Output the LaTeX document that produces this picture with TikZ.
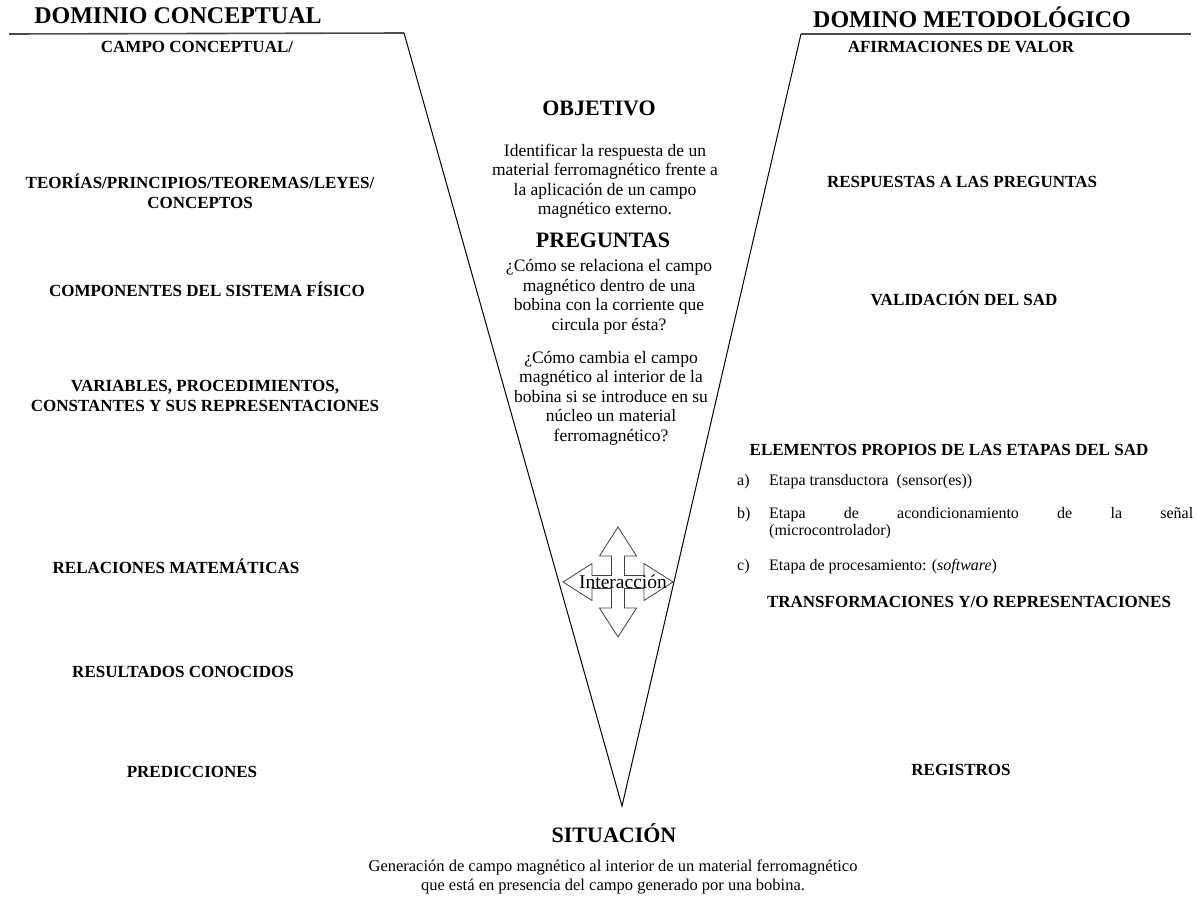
\documentclass[tikz,border=0pt]{standalone}
\usepackage{fontspec}
\setmainfont{Liberation Serif}
\usetikzlibrary{calc}

\begin{document}
\begin{tikzpicture}[x=1pt,y=-1pt,every node/.style={inner sep=0pt,align=center},
dominio/.style={font=\bfseries\fontsize{24}{26}\selectfont},
rotulo/.style={font=\bfseries\fontsize{17}{20}\selectfont},
cabeza/.style={font=\bfseries\fontsize{22}{24}\selectfont},
cuerpo/.style={font=\fontsize{17.5}{19.5}\selectfont},
etapa/.style={font=\fontsize{16}{17}\selectfont,anchor=west},
pie/.style={font=\fontsize{16.5}{19}\selectfont},
borde/.style={draw=black!70,line width=1.6pt},
brazo/.style={draw=black,line width=1pt},
flecha/.style={draw=black!75,fill=white,line width=0.8pt,line join=miter},
%scale=0.5, transform shape
]
\useasboundingbox (0,0) rectangle (1197,902);

\coordinate (cI) at (9,34);
\coordinate (cA) at (404,33);
\coordinate (cV) at (622,806);
\coordinate (cB) at (801,34);
\coordinate (cD) at (1191,34);
\draw[borde] (cI) -- (cA);
\draw[brazo] (cA) -- (cV) -- (cB);
\draw[borde] (cB) -- (cD);

\node[dominio] (nDC) at (178,16) {DOMINIO CONCEPTUAL};
\node[dominio] (nDM) at (972,17) {DOMINO METODOLÓGICO};

\node[rotulo] (nCC) at (197,47) {CAMPO CONCEPTUAL/};
\node[rotulo] (nTP) at (200,191) {TEORÍAS/PRINCIPIOS/TEOREMAS/LEYES/\\CONCEPTOS};
\node[rotulo] (nCS) at (207,289) {COMPONENTES DEL SISTEMA FÍSICO};
\node[rotulo] (nVP) at (205,396) {VARIABLES, PROCEDIMIENTOS,\\CONSTANTES Y SUS REPRESENTACIONES};
\node[rotulo] (nRM) at (176,566) {RELACIONES MATEMÁTICAS};
\node[rotulo] (nRC) at (183,672) {RESULTADOS CONOCIDOS};
\node[rotulo] (nPR) at (192,772) {PREDICCIONES};

\node[cabeza] (nOB) at (599,108) {OBJETIVO};
\node[cuerpo] (nOT) at (605,181) {Identificar la respuesta de un\\material ferromagnético frente a\\la aplicación de un campo\\magnético externo.};
\node[cabeza] (nPG) at (603,240) {PREGUNTAS};
\node[cuerpo] (nP1) at (609,297) {¿Cómo se relaciona el campo\\magnético dentro de una\\bobina con la corriente que\\circula por ésta?};
\node[cuerpo] (nP2) at (611,398) {¿Cómo cambia el campo\\magnético al interior de la\\bobina si se introduce en su\\núcleo un material\\ferromagnético?};

\coordinate (cX) at (618,582);
\draw[flecha,shift={(cX)}] (0,-55) -- (18.5,-26) -- (6.5,-26) -- (6.5,-6.5) -- (26,-6.5) -- (26,-18.5) -- (55,0)
  -- (26,18.5) -- (26,6.5) -- (6.5,6.5) -- (6.5,26) -- (18.5,26) -- (0,55) -- (-18.5,26) -- (-6.5,26)
  -- (-6.5,6.5) -- (-26,6.5) -- (-26,18.5) -- (-55,0) -- (-26,-18.5) -- (-26,-6.5) -- (-6.5,-6.5)
  -- (-6.5,-26) -- (-18.5,-26) -- cycle;
\node[cuerpo,font=\fontsize{19.5}{21}\selectfont] (nIN) at ($(cX)+(5,0)$) {Interacción};

\node[rotulo] (nAV) at (961,47) {AFIRMACIONES DE VALOR};
\node[rotulo] (nRP) at (962,182) {RESPUESTAS A LAS PREGUNTAS};
\node[rotulo] (nVS) at (964,298) {VALIDACIÓN DEL SAD};
\node[rotulo] (nEP) at (949,450) {ELEMENTOS PROPIOS DE LAS ETAPAS DEL SAD};
\node[etapa] (nLa) at (737,482) {a)};
\node[etapa] (nEa) at (769,482) {Etapa transductora\ \ (sensor(es))};
\node[etapa] (nLb) at (737,515) {b)};
\node[etapa,text width=424pt,align=justify] (nEb) at (769,523.5) {Etapa de acondicionamiento de la señal\linebreak (microcontrolador)};
\node[etapa] (nLc) at (737,567) {c)};
\node[etapa] (nEc) at (769,567) {Etapa de procesamiento: (\textit{software})};
\node[rotulo] (nTR) at (969,602) {TRANSFORMACIONES Y/O REPRESENTACIONES};
\node[rotulo] (nRG) at (961,770) {REGISTROS};

\node[cabeza] (nSI) at (614,833) {SITUACIÓN};
\node[pie] (nST) at (613,877) {Generación de campo magnético al interior de un material ferromagnético\\que está en presencia del campo generado por una bobina.};
\end{tikzpicture}
\end{document}
